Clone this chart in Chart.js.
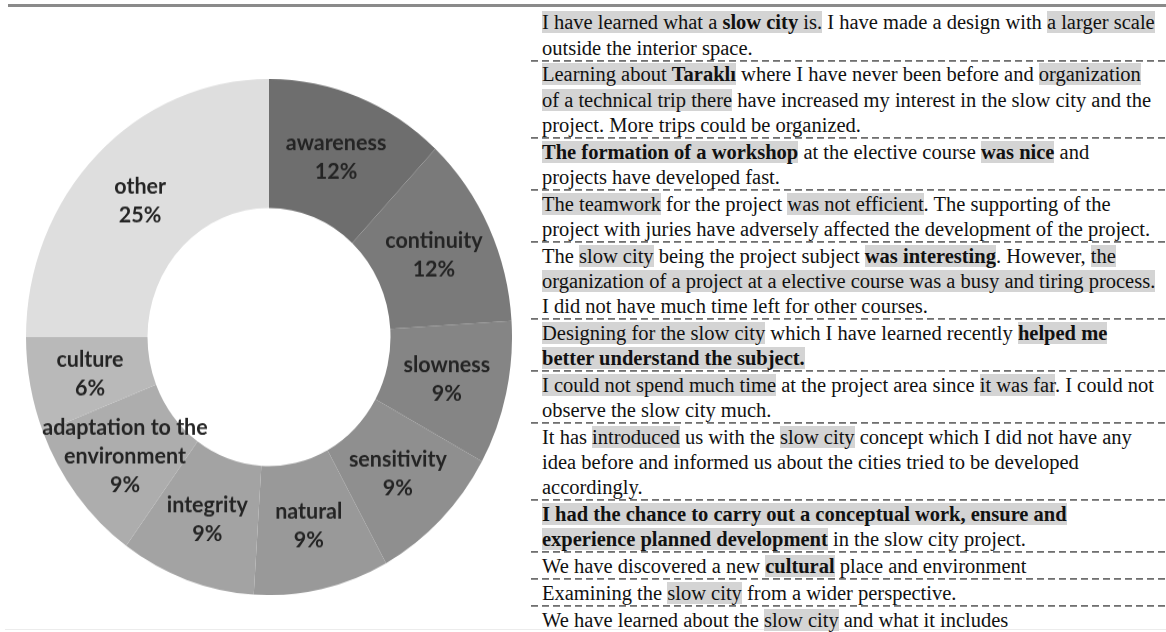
<!DOCTYPE html>
<html>
<head>
<meta charset="utf-8">
<script src="https://cdn.jsdelivr.net/npm/chart.js@4.4.1/dist/chart.umd.min.js"></script>
<style>
  html, body { margin: 0; padding: 0; background: #fff; }
  body { width: 1166px; height: 632px; position: relative; overflow: hidden; }
  #topRule { position: absolute; left: 8px; right: 0; top: 4px; height: 3px; background: #8a8a8a; }
  #bottomRule { position: absolute; left: 5px; right: 0; top: 629px; height: 1px; background: #ececec; }
  #chartWrap { position: absolute; left: 26px; top: 79px; width: 486px; height: 486px;
               transform: scaleY(1.062); transform-origin: 0 0; }
  #notes { position: absolute; left: 531px; top: 9.6px; width: 635px;
           font-family: "Liberation Serif", "Times New Roman", serif; font-size: 20.5px;
           line-height: 25.2px; color: #111; }
  .cell { padding: 0.8px 0 0.8px 11px; white-space: nowrap;
          background-image: repeating-linear-gradient(to right, #707070 0 7px, transparent 7px 11px);
          background-size: 100% 1.8px; background-position: 0 100%; background-repeat: no-repeat; }
  .cell:last-child { background-image: none; }
  .hl { background: #d4d4d4; }
</style>
</head>
<body>
<div id="topRule"></div>
<div id="bottomRule"></div>
<div id="chartWrap"><canvas id="c"></canvas></div>
<div id="notes">
  <div class="cell"><span class="hl">I have learned what a <b>slow city</b> is.</span> I have made a design with <span class="hl">a larger scale</span><br>outside the interior space.</div>
  <div class="cell"><span class="hl">Learning about <b>Taraklı</b></span> where I have never been before and <span class="hl">organization</span><br><span class="hl">of a technical trip there</span> have increased my interest in the slow city and the<br>project. More trips could be organized.</div>
  <div class="cell"><span class="hl"><b>The formation of a workshop</b></span> at the elective course <span class="hl"><b>was nice</b></span> and<br>projects have developed fast.</div>
  <div class="cell"><span class="hl">The teamwork</span> for the project <span class="hl">was not efficient</span>. The supporting of the<br>project with juries have adversely affected the development of the project.</div>
  <div class="cell">The <span class="hl">slow city</span> being the project subject <span class="hl"><b>was interesting</b></span>. However, <span class="hl">the</span><br><span class="hl">organization of a project at a elective course was a busy and tiring process.</span><br>I did not have much time left for other courses.</div>
  <div class="cell"><span class="hl">Designing for the slow city</span> which I have learned recently <span class="hl"><b>helped me</b></span><br><span class="hl"><b>better understand the subject.</b></span></div>
  <div class="cell"><span class="hl">I could not spend much time</span> at the project area since <span class="hl">it was far</span>. I could not<br>observe the slow city much.</div>
  <div class="cell">It has <span class="hl">introduced</span> us with the <span class="hl">slow city</span> concept which I did not have any<br>idea before and informed us about the cities tried to be developed<br>accordingly.</div>
  <div class="cell"><span class="hl"><b>I had the chance to carry out a conceptual work, ensure and</b></span><br><span class="hl"><b>experience planned development</b></span> in the slow city project.</div>
  <div class="cell">We have discovered a new <span class="hl"><b>cultural</b></span> place and environment</div>
  <div class="cell">Examining the <span class="hl">slow city</span> from a wider perspective.</div>
  <div class="cell">We have learned about the <span class="hl">slow city</span> and what it includes</div>
</div>
<script>
// ---- data ----
const categories = ["awareness", "continuity", "slowness", "sensitivity", "natural",
                    "integrity", "adaptation to the\nenvironment", "culture", "other"];
const shares = [12, 12, 9, 9, 9, 9, 9, 6, 25];

// ---- style ----
const sliceColors = ["#6e6e6e", "#7a7a7a", "#858585", "#8f8f8f", "#999999",
                     "#a3a3a3", "#adadad", "#b9b9b9", "#dedede"];

const sliceLabels = {
  id: "sliceLabels",
  afterDatasetsDraw(chart) {
    const ctx = chart.ctx;
    const meta = chart.getDatasetMeta(0);
    const data = chart.data.datasets[0].data;
    const lineH = 27;
    ctx.save();
    ctx.font = "bold 21.5px Lato";
    ctx.fillStyle = "#242424";
    ctx.textAlign = "center";
    ctx.textBaseline = "middle";
    meta.data.forEach((arc, i) => {
      const p = arc.getProps(["x", "y", "startAngle", "endAngle", "innerRadius", "outerRadius"], true);
      const mid = (p.startAngle + p.endAngle) / 2;
      const r = (p.innerRadius + p.outerRadius) / 2;
      const cx = p.x + Math.cos(mid) * r;
      const cy = p.y + Math.sin(mid) * r;
      const lines = String(chart.data.labels[i]).split("\n").concat([data[i] + "%"]);
      const top = cy - (lines.length - 1) * lineH / 2;
      lines.forEach((t, k) => ctx.fillText(t, cx, top + k * lineH));
    });
    ctx.restore();
  }
};

new Chart(document.getElementById("c"), {
  type: "doughnut",
  data: {
    labels: categories,
    datasets: [{ data: shares, backgroundColor: sliceColors, borderWidth: 0 }]
  },
  options: {
    responsive: true,
    maintainAspectRatio: false,
    animation: false,
    cutout: "50%",
    layout: { padding: 0 },
    plugins: { legend: { display: false }, tooltip: { enabled: false } }
  },
  plugins: [sliceLabels]
});
</script>
</body>
</html>
